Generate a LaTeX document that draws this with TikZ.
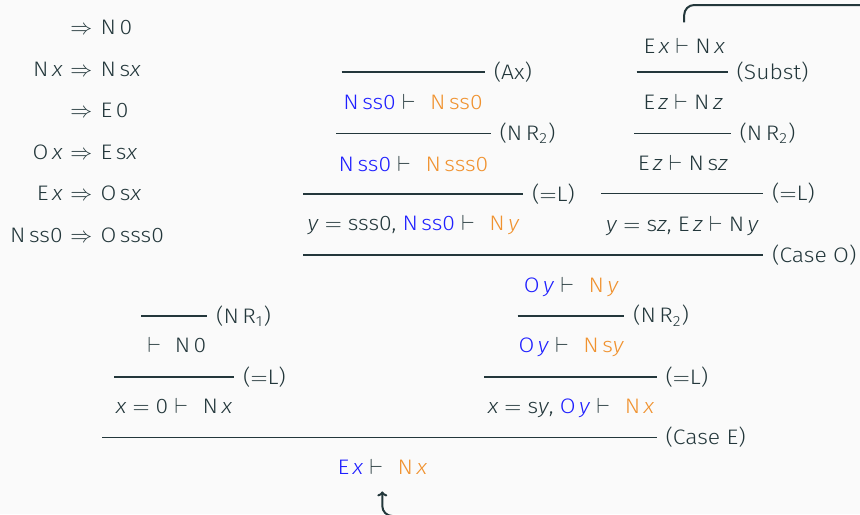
\documentclass[tikz,border=0pt]{standalone}
\usepackage{fontspec}
\setmainfont{Fira Sans Light}[ItalicFont={Fira Sans Light Italic}, FakeStretch=1.09]
\usetikzlibrary{arrows.meta}
\definecolor{pfInk}{HTML}{23373B}
\definecolor{pfBack}{HTML}{FAFAFA}
\definecolor{pfBlue}{HTML}{1F1FFF}
\definecolor{pfOrange}{HTML}{F0922F}
\newcommand{\vr}[1]{\textit{#1}}
\newcommand{\hy}[1]{\textcolor{pfBlue}{#1}}
\newcommand{\gl}[1]{\textcolor{pfOrange}{#1}}
\newcommand{\tr}{\hspace{0.3em}$\vdash$\hspace{0.3em}}
\newcommand{\trw}{\hspace{0.3em}$\vdash$\hspace{0.7em}}
\newcommand{\eqs}{$\;=\;$}
\tikzset{
  seq/.style={inner sep=0pt, anchor=base, text=pfInk,
    font=\fontsize{10.5}{12}\selectfont},
  ruleline/.style={draw=pfInk, line width=0.8pt},
  rname/.style={seq, anchor=west, xshift=4pt},
  loopback/.style={-{To[length=2.5pt, width=5pt]}, draw=pfInk, line width=1pt,
    rounded corners=5pt, shorten <=7.5pt, shorten >=8.5pt},
}

\begin{document}
\begin{tikzpicture}[x=0.5pt, y=-0.5pt]
  \useasboundingbox (0,0) rectangle (860,514);
  \clip (0,0) rectangle (860,514);
  \fill[pfBack] (0,0) rectangle (860,514);

  % rewrite rules
  \node[seq, anchor=base west] (r1r) at (70,34.3) {$\Rightarrow$\hspace{0.4em}N\,0};
  \node[seq, anchor=base east] (r2l) at (63,76) {N\,\vr{x}};
  \node[seq, anchor=base west] (r2r) at (70,76) {$\Rightarrow$\hspace{0.4em}N\,s\vr{x}};
  \node[seq, anchor=base west] (r3r) at (70,117.6) {$\Rightarrow$\hspace{0.4em}E\,0};
  \node[seq, anchor=base east] (r4l) at (63,159.2) {O\,\vr{x}};
  \node[seq, anchor=base west] (r4r) at (70,159.2) {$\Rightarrow$\hspace{0.4em}E\,s\vr{x}};
  \node[seq, anchor=base east] (r5l) at (63,200.8) {E\,\vr{x}};
  \node[seq, anchor=base west] (r5r) at (70,200.8) {$\Rightarrow$\hspace{0.4em}O\,s\vr{x}};
  \node[seq, anchor=base east] (r6l) at (63,242.4) {N\,ss0};
  \node[seq, anchor=base west] (r6r) at (70,242.4) {$\Rightarrow$\hspace{0.4em}O\,sss0};

  % case O, left branch
  \draw[ruleline] (341.7,71.7) -- (485,71.7) node[rname] (nAx) {(Ax)};
  \node[seq] (axA) at (413,109) {\hy{N\,ss0}\trw\gl{N\,ss0}};
  \draw[ruleline] (336,133.3) -- (490.7,133.3) node[rname] (nR2a) {(N\,R\textsubscript{2})};
  \node[seq] (axB) at (413.5,171) {\hy{N\,ss0}\trw\gl{N\,sss0}};
  \draw[ruleline] (303.3,194) -- (523.3,194) node[rname] (nLa) {($=$L)};
  \node[seq] (axC) at (413.5,230) {\vr{y}\eqs sss0, \hy{N\,ss0}\trw\gl{N\,\vr{y}}};

  % case O, right branch
  \node[seq] (subA) at (684.2,53) {E\,\vr{x}\tr N\,\vr{x}};
  \draw[ruleline] (636.7,71.7) -- (727.7,71.7) node[rname] (nSub) {(Subst)};
  \node[seq] (subB) at (683,109) {E\,\vr{z}\tr N\,\vr{z}};
  \draw[ruleline] (634.3,133.3) -- (730.7,133.3) node[rname] (nR2b) {(N\,R\textsubscript{2})};
  \node[seq] (subC) at (682.8,170) {E\,\vr{z}\tr N\,s\vr{z}};
  \draw[ruleline] (601,193.5) -- (763.3,193.5) node[rname] (nLb) {($=$L)};
  \node[seq] (subD) at (682.5,231) {\vr{y}\eqs s\vr{z}, E\,\vr{z}\tr N\,\vr{y}};
  \draw[ruleline] (303,255) -- (763.3,255) node[rname] (nCaseO) {(Case O)};

  % case E, left branch
  \draw[ruleline] (141,316) -- (207.3,316) node[rname] (nR1) {(N\,R\textsubscript{1})};
  \node[seq] (zeA) at (177,352) {$\vdash$\hspace{0.65em}N\,0};
  \draw[ruleline] (114,376.7) -- (234.3,376.7) node[rname] (nLc) {($=$L)};
  \node[seq] (zeB) at (174,413) {\vr{x}\eqs 0\trw N\,\vr{x}};

  % case E, right branch
  \node[seq] (odA) at (571.3,292.7) {\hy{O\,\vr{y}}\trw\gl{N\,\vr{y}}};
  \draw[ruleline] (517.7,315.7) -- (624.3,315.7) node[rname] (nR2d) {(N\,R\textsubscript{2})};
  \node[seq] (odB) at (571.3,352.7) {\hy{O\,\vr{y}}\trw\gl{N\,s\vr{y}}};
  \draw[ruleline] (484.3,376.7) -- (656.7,376.7) node[rname] (nLd) {($=$L)};
  \node[seq] (odC) at (571,413) {\vr{x}\eqs s\vr{y}, \hy{O\,\vr{y}}\trw\gl{N\,\vr{x}}};

  \draw[ruleline] (102.3,437.5) -- (656.7,437.5) node[rname] (nCaseE) {(Case E)};
  \node[seq] (goal) at (382.3,474) {\hy{E\,\vr{x}}\trw\gl{N\,\vr{x}}};

  % induction hypothesis loop
  \coordinate (loopT) at (900,5);
  \coordinate (loopB) at (900,516);
  \draw[loopback] (subA.north) |- (loopT) -- (loopB) -| (goal.south);
\end{tikzpicture}
\end{document}
